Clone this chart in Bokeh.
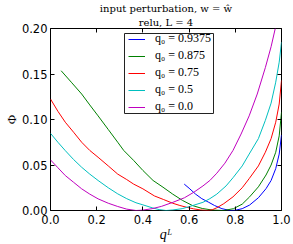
import math
from bokeh.plotting import figure
from bokeh.models import (Range1d, FixedTicker, LinearAxis, Title, Legend, LegendItem,
                          PrintfTickFormatter, BoxAnnotation)
from bokeh.embed import file_html
from bokeh.resources import INLINE

# ---- data ----
labels = ["q₀ = 0.9375", "q₀ = 0.875", "q₀ = 0.75", "q₀ = 0.5", "q₀ = 0.0"]
colors = ["#0000ff", "#008000", "#ff0000", "#00bfbf", "#bf00bf"]

q_blue = [0.579, 0.60, 0.628, 0.655, 0.685, 0.71, 0.742, 0.778, 0.80, 0.83, 0.862,
          0.90, 0.933, 0.955, 0.975, 0.99, 1.0]
phi_blue = [0.029, 0.0245, 0.018, 0.013, 0.009, 0.0055, 0.002, 0.0, 0.0003, 0.002, 0.006,
            0.014, 0.024, 0.033, 0.046, 0.062, 0.083]

q_green = [0.046, 0.09, 0.135, 0.17, 0.206, 0.25, 0.291, 0.317, 0.36, 0.40, 0.444, 0.487,
           0.529, 0.572, 0.614, 0.657, 0.70, 0.75, 0.792, 0.83, 0.862, 0.90, 0.933, 0.955,
           0.975, 0.99, 1.0]
phi_green = [0.1536, 0.141, 0.128, 0.116, 0.104, 0.089, 0.075, 0.066, 0.055, 0.044, 0.033, 0.0256,
             0.018, 0.011, 0.0055, 0.0022, 0.0005, 0.0, 0.002, 0.007, 0.015, 0.026, 0.039, 0.050,
             0.064, 0.082, 0.108]

q_red = [0.0, 0.032, 0.064, 0.10, 0.135, 0.17, 0.206, 0.25, 0.291, 0.33, 0.36, 0.40, 0.45,
         0.49, 0.529, 0.56, 0.59, 0.62, 0.65, 0.68, 0.70, 0.72, 0.75, 0.79, 0.83, 0.86, 0.90,
         0.93, 0.955, 0.975, 0.99, 1.0]
phi_red = [0.1225, 0.109, 0.097, 0.086, 0.075, 0.066, 0.0585, 0.049, 0.040, 0.034, 0.029, 0.0238,
           0.016, 0.012, 0.008, 0.0055, 0.0035, 0.0018, 0.0006, 0.0, 0.0008, 0.003, 0.0075, 0.015,
           0.025, 0.035, 0.049, 0.064, 0.079, 0.097, 0.117, 0.143]

q_cyan = [0.0, 0.032, 0.064, 0.10, 0.135, 0.17, 0.206, 0.25, 0.291, 0.33, 0.37, 0.40, 0.44,
          0.47, 0.50, 0.53, 0.57, 0.61, 0.66, 0.69, 0.72, 0.76, 0.79, 0.83, 0.86, 0.90, 0.93,
          0.955, 0.975, 0.99, 1.0]
phi_cyan = [0.0848, 0.075, 0.0658, 0.056, 0.0475, 0.040, 0.033, 0.025, 0.0183, 0.013, 0.0085,
            0.0062, 0.003, 0.001, 0.0, 0.0006, 0.002, 0.005, 0.009, 0.013, 0.018, 0.027, 0.036,
            0.049, 0.062, 0.079, 0.099, 0.118, 0.141, 0.163, 0.185]

q_mag = [0.0, 0.032, 0.064, 0.10, 0.135, 0.17, 0.206, 0.25, 0.291, 0.33, 0.37, 0.40, 0.44,
         0.48, 0.53, 0.58, 0.62, 0.66, 0.69, 0.72, 0.755, 0.79, 0.825, 0.86, 0.895, 0.93,
         0.955, 0.973]
phi_mag = [0.0556, 0.047, 0.0384, 0.031, 0.0238, 0.018, 0.0128, 0.008, 0.0044, 0.0015, 0.0,
           0.0004, 0.002, 0.0045, 0.009, 0.014, 0.020, 0.027, 0.033, 0.041, 0.052, 0.066, 0.084,
           0.104, 0.128, 0.157, 0.180, 0.200]

x_ticks = [0.0, 0.2, 0.4, 0.6, 0.8, 1.0]
y_ticks = [0.0, 0.05, 0.10, 0.15, 0.20]
title_lines = ["input perturbation, w = ŵ", "relu, L = 4"]
x_label = "qᴸ"
y_label = "Φ"

series = [(q_blue, phi_blue), (q_green, phi_green), (q_red, phi_red),
          (q_cyan, phi_cyan), (q_mag, phi_mag)]

# ---- figure ----
p = figure(width=293, height=244, output_backend="svg", toolbar_location=None,
           x_range=Range1d(0, 1), y_range=Range1d(0, 0.2),
           min_border_left=45, min_border_right=12, min_border_top=28, min_border_bottom=34,
           background_fill_color="white", border_fill_color="white")
p.xgrid.visible = False
p.ygrid.visible = False
p.outline_line_color = "black"
p.outline_line_width = 1

bottom_ax = p.below[0]
left_ax = p.left[0]


def style_axis(ax, ticks, fmt, standoff, show):
    ax.ticker = FixedTicker(ticks=ticks)
    ax.formatter = PrintfTickFormatter(format=fmt)
    ax.major_tick_in = 4
    ax.major_tick_out = 0
    ax.minor_tick_in = 0
    ax.minor_tick_out = 0
    ax.axis_line_color = None
    ax.major_tick_line_color = "black"
    ax.major_tick_line_width = 1
    ax.major_label_standoff = standoff
    ax.major_label_text_font = "DejaVu Sans"
    ax.major_label_text_color = "black"
    if show:
        ax.major_label_text_font_size = "11.5px"
    else:
        ax.major_label_text_font_size = "0px"
        ax.major_label_text_alpha = 0


style_axis(bottom_ax, x_ticks, "%.1f", 4, True)
style_axis(left_ax, y_ticks, "%.2f", 3, True)
top_ax = LinearAxis()
style_axis(top_ax, x_ticks, "%.1f", 0, False)
p.add_layout(top_ax, "above")
right_ax = LinearAxis()
style_axis(right_ax, y_ticks, "%.2f", 0, False)
p.add_layout(right_ax, "right")

bottom_ax.axis_label = x_label
bottom_ax.axis_label_text_font = "Liberation Serif"
bottom_ax.axis_label_text_font_style = "italic"
bottom_ax.axis_label_text_font_size = "14px"
bottom_ax.axis_label_text_color = "black"
bottom_ax.axis_label_standoff = 0

left_ax.axis_label = y_label
left_ax.axis_label_text_font = "Liberation Serif"
left_ax.axis_label_text_font_style = "normal"
left_ax.axis_label_text_font_size = "13px"
left_ax.axis_label_text_color = "black"
left_ax.axis_label_standoff = 0

for line in reversed(title_lines):
    p.add_layout(Title(text=line, align="center", text_font="DejaVu Serif",
                       text_font_size="10px", text_font_style="normal",
                       text_color="black", standoff=1, offset=0), "above")

# legend frame, drawn underneath everything else (frame-relative screen units)
p.add_layout(BoxAnnotation(left=74, right=163, bottom=97, top=177,
                           left_units="screen", right_units="screen",
                           bottom_units="screen", top_units="screen",
                           fill_color="white", fill_alpha=1.0,
                           line_color="#222222", line_width=1, line_alpha=1.0,
                           level="underlay"))

renderers = []
for (qs, ph), c in zip(series, colors):
    r = p.line(qs, ph, line_color=c, line_width=1)
    renderers.append(r)

items = [LegendItem(label=l, renderers=[r]) for l, r in zip(labels, renderers)]
leg = Legend(items=items, location=(78, 96), padding=2, spacing=2,
             glyph_width=17, glyph_height=14, label_height=14, label_standoff=10,
             margin=0, border_line_color=None, background_fill_color=None,
             background_fill_alpha=0,
             label_text_font="Liberation Serif", label_text_font_size="12px",
             label_text_color="black")
p.add_layout(leg)

open("out.html", "w").write(file_html(p, INLINE))
